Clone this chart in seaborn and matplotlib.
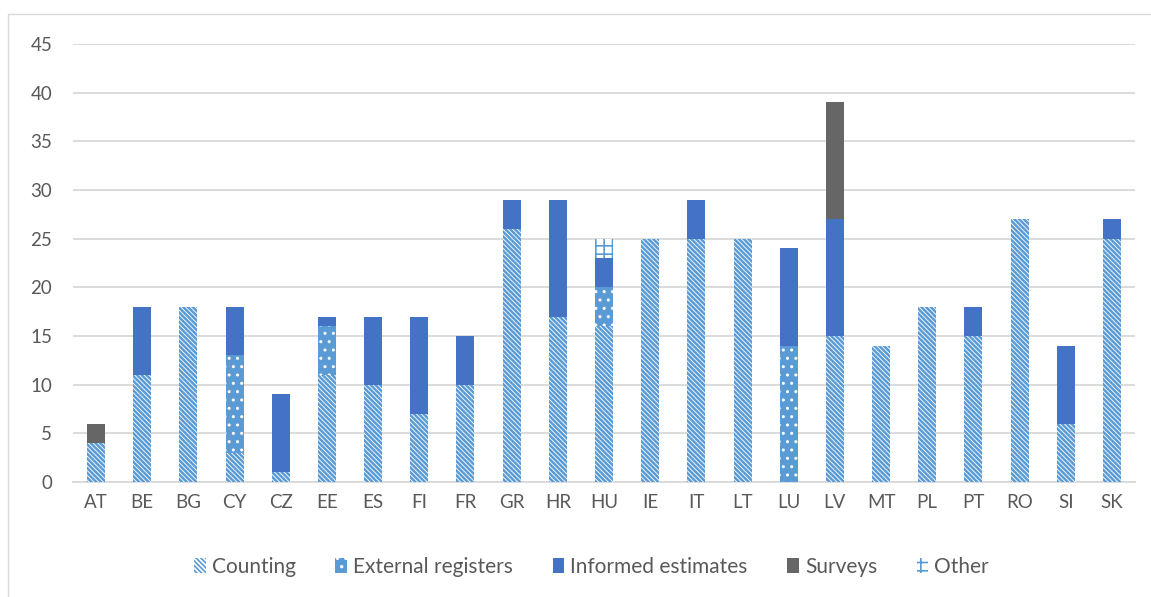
import matplotlib
matplotlib.use("Agg")
import matplotlib.pyplot as plt
import matplotlib.patches as mpatches
import numpy as np
import pandas as pd
import seaborn as sns

countries = ["AT", "BE", "BG", "CY", "CZ", "EE", "ES", "FI", "FR", "GR", "HR", "HU",
             "IE", "IT", "LT", "LU", "LV", "MT", "PL", "PT", "RO", "SI", "SK"]
counting = [4, 11, 18, 3, 1, 11, 10, 7, 10, 26, 17, 16, 25, 25, 25, 0, 15, 14, 18, 15, 27, 6, 25]
external = [0, 0, 0, 10, 0, 5, 0, 0, 0, 0, 0, 4, 0, 0, 0, 14, 0, 0, 0, 0, 0, 0, 0]
informed = [0, 7, 0, 5, 8, 1, 7, 10, 5, 3, 12, 3, 0, 4, 0, 10, 12, 0, 0, 3, 0, 8, 2]
surveys = [2, 0, 0, 0, 0, 0, 0, 0, 0, 0, 0, 0, 0, 0, 0, 0, 12, 0, 0, 0, 0, 0, 0]
other = [0, 0, 0, 0, 0, 0, 0, 0, 0, 0, 0, 2, 0, 0, 0, 0, 0, 0, 0, 0, 0, 0, 0]
series_names = ["Counting", "External registers", "Informed estimates", "Surveys", "Other"]

BLUE = "#5B9BD5"
DARK = "#4472C4"
GRAY = "#666666"
TXT = "#595959"
BS = chr(92)

sns.set_theme(style="white")
plt.rcParams["font.family"] = ["Lato", "DejaVu Sans"]

layers = [counting, external, informed, surveys, other]
cum = np.cumsum(np.array(layers, dtype=float), axis=0)
styles = [
    dict(color="white", edgecolor=BLUE, hatch=BS * 7, hlw=1.8),
    dict(color=BLUE, edgecolor="white", hatch="..", hlw=1.0),
    dict(color=DARK, edgecolor=DARK, hatch=None, hlw=1.0),
    dict(color=GRAY, edgecolor=GRAY, hatch=None, hlw=1.0),
    dict(color="white", edgecolor=BLUE, hatch="++", hlw=1.2),
]

fig = plt.figure(figsize=(11.51, 5.97), dpi=100)
ax = fig.add_axes([73 / 1151, 1 - 482 / 597, (1135 - 73) / 1151, (482 - 44) / 597])

for i in reversed(range(len(layers))):
    seg = np.array(layers[i], dtype=float)
    h = np.where(seg > 0, cum[i], 0.0)
    df = pd.DataFrame({"country": countries, "value": h})
    st = styles[i]
    plt.rcParams["hatch.linewidth"] = st["hlw"]
    sns.barplot(data=df, x="country", y="value", order=countries, ax=ax,
                color=st["color"], saturation=1, width=0.39,
                edgecolor=st["edgecolor"], linewidth=0, hatch=st["hatch"],
                errorbar=None, zorder=3 + (len(layers) - i))
    for p in ax.patches[-len(countries):]:
        p.set_facecolor(st["color"])
        p.set_edgecolor(st["edgecolor"])
        p.set_linewidth(0)

ax.set_ylim(0, 45)
ax.set_xlim(-0.5, len(countries) - 0.5)
ax.set_yticks(range(0, 46, 5))
ax.yaxis.grid(True, color="#D9D9D9", linewidth=1.3, zorder=0)
ax.set_axisbelow(True)
for s in ["top", "right", "left"]:
    ax.spines[s].set_visible(False)
ax.spines["bottom"].set_color("#D9D9D9")
ax.spines["bottom"].set_linewidth(1.3)
ax.set_xlabel("")
ax.set_ylabel("")
ax.tick_params(axis="both", length=0, labelsize=13.5, colors=TXT, pad=9)
ax.tick_params(axis="y", pad=15)

handles = []
for name, st in zip(series_names, styles):
    plt.rcParams["hatch.linewidth"] = st["hlw"]
    handles.append(mpatches.Patch(facecolor=st["color"], edgecolor=st["edgecolor"],
                                  hatch=st["hatch"], linewidth=0, label=name))
leg = fig.legend(handles=handles, loc="center", bbox_to_anchor=(0.514, 1 - 567 / 597),
                 ncol=5, frameon=False, fontsize=15, handlelength=0.55,
                 handleheight=0.7, columnspacing=1.9, handletextpad=0.3)
for t in leg.get_texts():
    t.set_color(TXT)

border = mpatches.Rectangle((8 / 1151, -0.1), 1.2, 1 - 14 / 597 + 0.1,
                            transform=fig.transFigure, fill=False,
                            edgecolor="#D9D9D9", linewidth=1.0)
fig.patches.append(border)

fig.savefig("out.png", dpi=100)
